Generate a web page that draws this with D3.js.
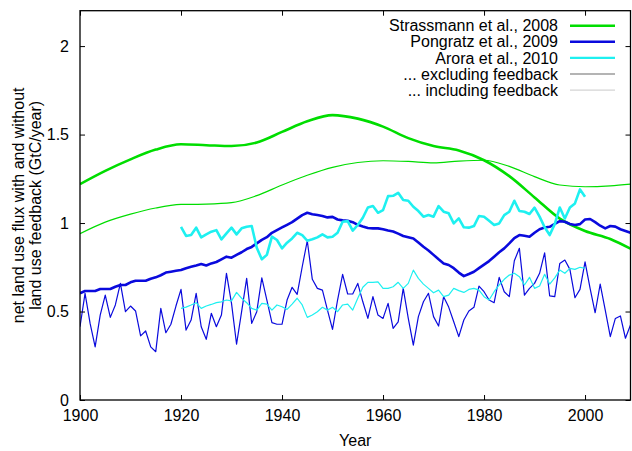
<!DOCTYPE html>
<html><head><meta charset="utf-8">
<script src="https://cdn.jsdelivr.net/npm/d3@7"></script>
<style>body{margin:0;background:#fff}svg text{font-family:"Liberation Sans",Arial,sans-serif}</style>
</head><body><svg id="c" width="632" height="451"></svg>
<script>
const xTicks=[1900,1920,1940,1960,1980,2000];
const yTicks=[0,0.5,1,1.5,2];
const yTickLabels=["0","0.5","1","1.5","2"];
// Strassmann et al., 2008 (5-yearly samples of smooth curves)
const strassYears=[1900,1905,1910,1915,1920,1925,1930,1935,1940,1945,1950,1955,1960,1965,1970,1975,1980,1985,1990,1995,2000,2005,2009];
const strassExcl=[1.22,1.295,1.36,1.415,1.445,1.44,1.435,1.455,1.515,1.575,1.61,1.59,1.545,1.48,1.435,1.41,1.355,1.265,1.145,1.025,0.955,0.91,0.855];
const strassIncl=[0.94,1.005,1.05,1.085,1.105,1.107,1.115,1.155,1.215,1.27,1.315,1.342,1.352,1.348,1.34,1.35,1.355,1.32,1.262,1.215,1.205,1.21,1.22];
// Pongratz et al., 2009 (annual 1900-2009)
const pongStart=1900;
const pongExcl=[0.603,0.616,0.616,0.616,0.627,0.627,0.627,0.64,0.65,0.65,
0.665,0.674,0.674,0.674,0.685,0.693,0.705,0.72,0.725,0.73,
0.735,0.745,0.753,0.76,0.768,0.76,0.772,0.78,0.795,0.81,
0.804,0.82,0.835,0.853,0.865,0.885,0.905,0.92,0.945,0.96,
0.975,0.99,1.005,1.025,1.045,1.058,1.05,1.045,1.04,1.032,
1.035,1.02,1.015,1.013,1.005,0.99,0.98,0.972,0.97,0.97,
0.965,0.958,0.952,0.94,0.927,0.92,0.913,0.89,0.866,0.845,
0.82,0.795,0.772,0.763,0.745,0.72,0.70,0.712,0.725,0.745,
0.765,0.785,0.81,0.835,0.857,0.885,0.915,0.932,0.928,0.923,
0.945,0.965,0.975,0.979,0.995,1.011,1.007,0.995,0.989,0.994,
1.02,1.023,1.005,0.985,0.97,0.983,0.98,0.965,0.955,0.945];
const pongIncl=[0.414,0.603,0.433,0.30,0.48,0.593,0.467,0.537,0.659,0.499,
0.531,0.503,0.362,0.39,0.30,0.273,0.518,0.38,0.428,0.531,
0.625,0.395,0.452,0.603,0.414,0.343,0.49,0.414,0.48,0.716,
0.546,0.315,0.499,0.687,0.433,0.499,0.69,0.565,0.437,0.428,
0.428,0.565,0.637,0.597,0.753,0.90,0.682,0.631,0.621,0.508,
0.399,0.565,0.71,0.599,0.599,0.659,0.555,0.461,0.584,0.48,
0.461,0.546,0.405,0.442,0.631,0.461,0.31,0.471,0.555,0.603,
0.471,0.418,0.584,0.525,0.442,0.358,0.452,0.503,0.524,0.644,
0.612,0.565,0.55,0.693,0.612,0.584,0.787,0.857,0.593,0.631,
0.659,0.716,0.832,0.588,0.584,0.772,0.791,0.738,0.578,0.625,
0.781,0.631,0.493,0.655,0.508,0.358,0.461,0.475,0.349,0.424];
// Arora et al., 2010 (annual 1920-2000)
const aroraStart=1920;
const aroraExcl=[0.979,0.927,0.932,0.974,0.919,0.936,0.951,0.96,0.908,0.942,
0.974,0.936,0.97,0.979,0.983,0.86,0.795,0.82,0.923,0.904,
0.857,0.889,0.913,0.945,0.932,0.90,0.908,0.919,0.936,0.919,
0.923,0.945,1.007,1.011,0.957,0.989,1.03,1.088,1.096,1.058,
1.073,1.152,1.154,1.171,1.13,1.126,1.092,1.068,1.036,1.045,
1.036,1.096,1.064,1.055,0.998,1.026,0.976,0.974,0.983,1.04,
1.036,1.013,0.989,0.998,1.045,1.064,1.126,1.068,1.064,1.051,
1.087,1.036,0.976,0.932,0.994,1.088,1.026,1.088,1.111,1.19,1.149];
const aroraIncl=[0.518,0.525,0.537,0.55,0.518,0.531,0.54,0.55,0.555,0.565,
0.56,0.608,0.575,0.55,0.518,0.508,0.546,0.542,0.508,0.537,
0.527,0.512,0.542,0.575,0.537,0.467,0.48,0.499,0.524,0.508,
0.524,0.499,0.537,0.542,0.508,0.575,0.637,0.665,0.665,0.668,
0.631,0.631,0.64,0.665,0.631,0.659,0.734,0.687,0.655,0.631,
0.606,0.621,0.584,0.593,0.631,0.618,0.608,0.625,0.631,0.621,
0.584,0.565,0.612,0.65,0.682,0.706,0.716,0.697,0.65,0.693,
0.631,0.644,0.71,0.655,0.69,0.734,0.716,0.744,0.738,0.75,0.744];
const legendLabels=["Strassmann et al., 2008","Pongratz et al., 2009","Arora et al., 2010","... excluding feedback","... including feedback"];

const svg=d3.select("#c");
const L=80,R=630.5,T=10.7,B=400;
const x=d3.scaleLinear().domain([1900,2009]).range([L,R]);
const y=d3.scaleLinear().domain([0,2.2]).range([B,T]);

const green="#00dd00",blue="#0a0add",cyan="#1ef0f0";
const annual=(start,arr)=>arr.map((v,i)=>[start+i,v]);
const line=d3.line().x(d=>x(d[0])).y(d=>y(d[1]));
const smooth=d3.line().x(d=>x(d[0])).y(d=>y(d[1])).curve(d3.curveMonotoneX);
const series=[
 {d:strassYears.map((t,i)=>[t,strassExcl[i]]),c:green,w:2.6,g:smooth},
 {d:strassYears.map((t,i)=>[t,strassIncl[i]]),c:green,w:1.2,g:smooth},
 {d:annual(pongStart,pongExcl),c:blue,w:2.6,g:line},
 {d:annual(pongStart,pongIncl),c:blue,w:1.2,g:line},
 {d:annual(aroraStart,aroraExcl),c:cyan,w:2.6,g:line},
 {d:annual(aroraStart,aroraIncl),c:cyan,w:1.2,g:line}
];
const plot=svg.append("g");
plot.append("clipPath").attr("id","clip").append("rect").attr("x",L).attr("y",T).attr("width",R-L).attr("height",B-T);
series.forEach(s=>plot.append("path").attr("clip-path","url(#clip)").attr("d",s.g(s.d)).attr("fill","none").attr("stroke",s.c).attr("stroke-width",s.w).attr("stroke-linejoin","round"));

// axes with inward ticks
const fs=16;
const ax=svg.append("g").attr("transform",`translate(0,${B})`).call(d3.axisBottom(x).tickValues(xTicks).tickFormat(d3.format("d")).tickSizeInner(-5).tickSizeOuter(0).tickPadding(10));
const axT=svg.append("g").attr("transform",`translate(0,${T})`).call(d3.axisTop(x).tickValues(xTicks).tickFormat("").tickSizeInner(-5).tickSizeOuter(0));
const ay=svg.append("g").attr("transform",`translate(${L},0)`).call(d3.axisLeft(y).tickValues(yTicks).tickFormat((d,i)=>yTickLabels[i]).tickSizeInner(-5).tickSizeOuter(0).tickPadding(11));
const ayR=svg.append("g").attr("transform",`translate(${R},0)`).call(d3.axisRight(y).tickValues(yTicks).tickFormat("").tickSizeInner(-5).tickSizeOuter(0));
[ax,axT,ay,ayR].forEach(g=>{g.select(".domain").remove();g.selectAll("line").attr("stroke","#000").attr("stroke-width",1);g.selectAll("text").attr("font-size",fs).attr("font-family","Liberation Sans, Arial, sans-serif").attr("fill","#000");});
ax.selectAll("text").attr("dy","0.71em");
svg.append("rect").attr("x",L).attr("y",T).attr("width",R-L).attr("height",B-T).attr("fill","none").attr("stroke","#000").attr("stroke-width",1.3);

svg.append("text").attr("x",(L+R)/2).attr("y",446).attr("text-anchor","middle").attr("font-size",fs).text("Year");
const yl=svg.append("text").attr("transform",`translate(24,${(T+B)/2}) rotate(-90)`).attr("text-anchor","middle").attr("font-size",fs);
yl.append("tspan").attr("x",0).attr("dy",0).text("net land use flux with and without");
yl.append("tspan").attr("x",0).attr("dy","1.05em").text("land use feedback (GtC/year)");

// legend
const legColors=[green,blue,cyan,"#b4b4b4","#d4d4d4"];
const legW=[2.4,2.4,2.4,2.2,1.3];
const lg=svg.append("g");
legendLabels.forEach((t,i)=>{
  const yy=25.7+i*16.1;
  lg.append("text").attr("x",558).attr("y",yy).attr("dy","0.35em").attr("text-anchor","end").attr("font-size",fs).text(t);
  lg.append("line").attr("x1",570).attr("x2",615).attr("y1",yy).attr("y2",yy).attr("stroke",legColors[i]).attr("stroke-width",legW[i]);
});
</script></body></html>
